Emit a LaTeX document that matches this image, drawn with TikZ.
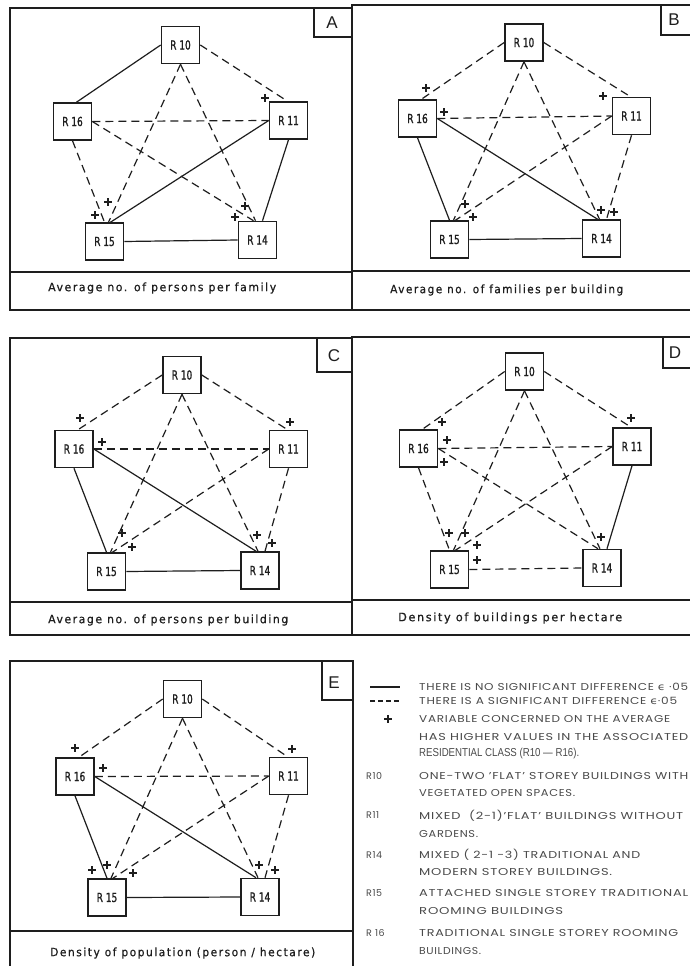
\documentclass[tikz,border=0pt]{standalone}
\usepackage{fontspec}
\usepackage{graphicx}
\newfontfamily\tech[FakeStretch=0.72,FakeBold=1.2]{DejaVu Sans}
\newfontfamily\capfont[FakeStretch=0.85,LetterSpace=12,FakeBold=0.6]{DejaVu Sans}
\newfontfamily\legfont[LetterSpace=6]{Poppins}
\newfontfamily\legtight{Liberation Sans}
\newfontfamily\symfont{DejaVu Sans}
\newfontfamily\tagfont{Liberation Sans}
\definecolor{ink}{HTML}{1E1E1E}
\definecolor{legink}{HTML}{4A4A4A}
% stretch a line of lettering to a given width, keeping its height
\newcommand{\fitw}[2]{\resizebox{#1pt}{\height}{#2}}
% outer pentagon of connectors: 10-16, 10-11, 16-15, 11-14, 15-14
\newcommand{\ringedges}[6]{%
  \draw[#2] (#110.west) -- ([xshift=4pt]#116.north);
  \draw[#3] (#110.east) -- ([xshift=-1pt]#111.north);
  \draw[#4] (#116.south) -- (#115.north);
  \draw[#5] (#111.south) -- ([xshift=5pt]#114.north);
  \draw[#6] (#115.east) -- (#114.west);}
% inner star of connectors: 10-15, 10-14, 16-11, 11-15, 16-14
\newcommand{\staredges}[6]{%
  \draw[#2] (#110.south) -- ([xshift=4pt]#115.north);
  \draw[#3] (#110.south) -- ([xshift=-2pt]#114.north);
  \draw[#4] (#116.east) -- (#111.west);
  \draw[#5] (#111.west) -- ([xshift=6pt]#115.north);
  \draw[#6] (#116.east) -- ([xshift=-4pt]#114.north);}
\begin{document}
\begin{tikzpicture}[x=1pt,y=-1pt,color=ink,
  frame/.style={line width=1.3pt},
  rbox/.style={draw, line width=1.6pt, fill=white, minimum width=38pt,
    minimum height=37pt, inner sep=0pt, font=\tech\fontsize{12.5}{13}\selectfont},
  nodiff/.style={line width=1.2pt},
  sigdiff/.style={line width=1.2pt, dash pattern=on 8pt off 5pt},
  tag/.style={font=\tagfont\fontsize{17}{17}\selectfont, inner sep=0pt},
  captext/.style={anchor=west, inner sep=0pt, font=\capfont\fontsize{11.5}{12}\selectfont},
  leg/.style={anchor=west, inner sep=0pt, text=legink, font=\legfont\fontsize{10}{11}\selectfont},
  legkey/.style={anchor=west, inner sep=0pt, text=legink, font=\legfont\fontsize{9.5}{10}\selectfont},
  plusmark/.pic={\draw[line width=1.3pt] (-4,0) -- (4,0) (0,-4) -- (0,4);}]
\clip (0,0) rectangle (690,966);
\fill[white] (0,0) rectangle (690,966);

% ---------- frames, caption rules and panel letters ----------
\draw[frame] (10,8) rectangle (352,310);   \draw[frame] (10,272) -- (352,272);
\draw[frame] (352,5) rectangle (694,310);  \draw[frame] (352,271) -- (694,271);
\draw[frame] (10,338) rectangle (352,635); \draw[frame] (10,602) -- (352,602);
\draw[frame] (352,337) rectangle (694,635);\draw[frame] (352,600) -- (694,600);
\draw[frame] (10,661) rectangle (353,975); \draw[frame] (10,931) -- (353,931);

\draw[frame] (314,8) rectangle (352,37);   \node[tag] (tagA) at (332,23) {A};
\draw[frame] (661,5) rectangle (694,35);   \node[tag] (tagB) at (674,20) {B};
\draw[frame] (317,338) rectangle (352,372);\node[tag] (tagC) at (334,356) {C};
\draw[frame] (663,337) rectangle (694,368);\node[tag] (tagD) at (675,353) {D};
\draw[frame] (322,661) rectangle (353,700);\node[tag] (tagE) at (334,683) {E};

% ---------- A ----------
\node[rbox] (a10) at (180.5,45) {R 10};
\node[rbox] (a16) at (72.5,121.5) {R 16};
\node[rbox] (a11) at (288.5,120.5) {R 11};
\node[rbox] (a15) at (104.5,241.5) {R 15};
\node[rbox] (a14) at (257.5,240) {R 14};
\ringedges{a}{nodiff}{sigdiff}{sigdiff}{nodiff}{nodiff}
\staredges{a}{sigdiff}{sigdiff}{sigdiff}{nodiff}{sigdiff}
\foreach \p in {(265,98),(108,202),(95,215),(245,206),(235,217)} \pic at \p {plusmark};
\node[captext] (capA) at (48,288) {\fitw{228}{Average no. of persons per family}};

% ---------- B ----------
\node[rbox] (b10) at (524,42.5) {R 10};
\node[rbox] (b16) at (417.5,118.5) {R 16};
\node[rbox] (b11) at (631.5,116) {R 11};
\node[rbox] (b15) at (449.5,239.5) {R 15};
\node[rbox] (b14) at (601.5,238.5) {R 14};
\ringedges{b}{sigdiff}{sigdiff}{nodiff}{sigdiff}{nodiff}
\staredges{b}{sigdiff}{sigdiff}{sigdiff}{sigdiff}{nodiff}
\foreach \p in {(426,88),(603,96),(444,112),(465,204),(473,217),(601,210),(614,212)} \pic at \p {plusmark};
\node[captext] (capB) at (390,290) {\fitw{233}{Average no. of families per building}};

% ---------- C ----------
\node[rbox] (c10) at (182,375) {R 10};
\node[rbox] (c16) at (74,449) {R 16};
\node[rbox] (c11) at (288.5,449) {R 11};
\node[rbox] (c15) at (106.5,571.5) {R 15};
\node[rbox] (c14) at (260,570.5) {R 14};
\ringedges{c}{sigdiff}{sigdiff}{nodiff}{sigdiff}{nodiff}
\staredges{c}{sigdiff}{sigdiff}{sigdiff}{sigdiff}{nodiff}
\foreach \p in {(80,418),(290,422),(102,442),(122,533),(132,547),(257,535),(272,543)} \pic at \p {plusmark};
\node[captext] (capC) at (48,620) {\fitw{240}{Average no. of persons per building}};

% ---------- D ----------
\node[rbox] (d10) at (524.5,371.5) {R 10};
\node[rbox] (d16) at (418.5,448.5) {R 16};
\node[rbox] (d11) at (632,446.5) {R 11};
\node[rbox] (d15) at (449.5,569.5) {R 15};
\node[rbox] (d14) at (602,568) {R 14};
\ringedges{d}{sigdiff}{sigdiff}{sigdiff}{nodiff}{sigdiff}
\staredges{d}{sigdiff}{sigdiff}{sigdiff}{sigdiff}{sigdiff}
\foreach \p in {(442,422),(631,418),(447,440),(444,462),(449,533),(465,533),(477,545),(477,560),(601,537)} \pic at \p {plusmark};
\node[captext] (capD) at (398,618) {\fitw{224}{Density of buildings per hectare}};

% ---------- E ----------
\node[rbox] (e10) at (182.5,699) {R 10};
\node[rbox] (e16) at (75,776.5) {R 16};
\node[rbox] (e11) at (288.5,776) {R 11};
\node[rbox] (e15) at (107,897.5) {R 15};
\node[rbox] (e14) at (260,897) {R 14};
\ringedges{e}{sigdiff}{sigdiff}{nodiff}{sigdiff}{nodiff}
\staredges{e}{sigdiff}{sigdiff}{sigdiff}{sigdiff}{nodiff}
\foreach \p in {(75,748),(292,749),(103,768),(92,870),(107,865),(133,873),(259,865),(275,870)} \pic at \p {plusmark};
\node[captext] (capE) at (50,953) {\fitw{265}{Density of population (person / hectare)}};

% ---------- key ----------
\coordinate (k1a) at (370,687);   \coordinate (k1b) at (400,687);
\coordinate (k2a) at (370,701);   \coordinate (k2b) at (400,701);
\draw[nodiff] (k1a) -- (k1b);
\draw[line width=1.1pt, dash pattern=on 5pt off 3pt] (k2a) -- (k2b);
\pic at (388,719) {plusmark};

\node[leg] (l1)  at (419,687)   {\fitw{269}{THERE IS NO SIGNIFICANT DIFFERENCE {\symfont ϵ} ·05}};
\node[leg] (l2)  at (419,701)   {\fitw{258}{THERE IS A SIGNIFICANT DIFFERENCE {\symfont ϵ}·05}};
\node[leg] (l3)  at (419,718.7) {\fitw{251}{VARIABLE CONCERNED ON THE AVERAGE}};
\node[leg] (l4)  at (419,737)   {\fitw{269}{HAS HIGHER VALUES IN THE ASSOCIATED}};
\node[leg] (l5)  at (419,754)   {\fitw{160}{\legtight\fontsize{11.5}{12}\selectfont RESIDENTIAL CLASS (R10 — R16).}};
\node[legkey] (k10) at (366,776) {R10};
\node[leg] (l6)  at (419,776)   {\fitw{269}{ONE-TWO ’FLAT’ STOREY BUILDINGS WITH}};
\node[leg] (l7)  at (419,793)   {\fitw{156}{VEGETATED OPEN SPACES.}};
\node[legkey] (k11) at (366,815.5) {R11};
\node[leg] (l8)  at (419,815.5) {\fitw{264}{MIXED \ (2-1)’FLAT’ BUILDINGS WITHOUT}};
\node[leg] (l9)  at (419,833.5) {\fitw{59}{GARDENS.}};
\node[legkey] (k14) at (366,855) {R14};
\node[leg] (l10) at (419,855)   {\fitw{221}{MIXED ( 2-1 -3) TRADITIONAL AND}};
\node[leg] (l11) at (419,872)   {\fitw{193}{MODERN STOREY BUILDINGS.}};
\node[legkey] (k15) at (366,893) {R15};
\node[leg] (l12) at (419,893)   {\fitw{269}{ATTACHED SINGLE STOREY TRADITIONAL}};
\node[leg] (l13) at (419,911)   {\fitw{144}{ROOMING BUILDINGS}};
\node[legkey] (k16) at (366,933) {R 16};
\node[leg] (l14) at (419,933)   {\fitw{259}{TRADITIONAL SINGLE STOREY ROOMING}};
\node[leg] (l15) at (419,951)   {\fitw{62}{BUILDINGS.}};
\end{tikzpicture}
\end{document}
